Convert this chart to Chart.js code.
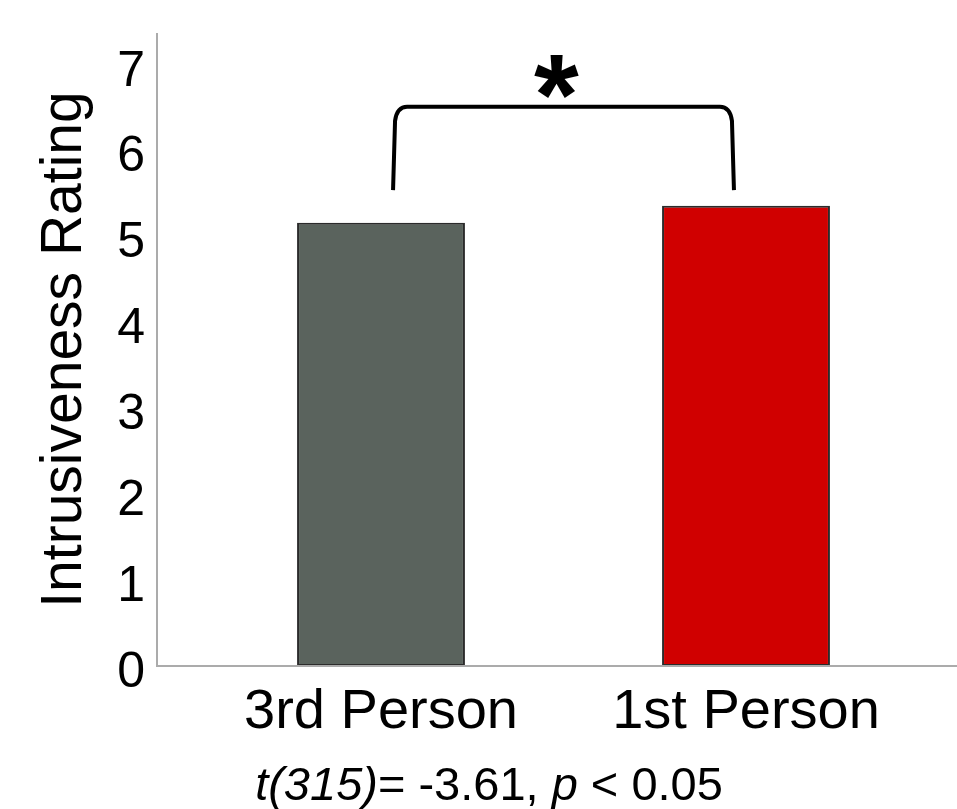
<!DOCTYPE html>
<html><head><meta charset="utf-8">
<script src="https://cdn.jsdelivr.net/npm/chart.js@4.4.0/dist/chart.umd.min.js"></script>
<style>html,body{margin:0;padding:0;background:#fff}#wrap{width:957px;height:809px}</style>
</head><body><div id="wrap"><canvas id="c"></canvas></div>
<script>
const categories = ['3rd Person', '1st Person'];
const ratings = [5.16, 5.36];
const yTicks = [0, 1, 2, 3, 4, 5, 6, 7];
const yMax = 7.37;
const barColors = ['#5A635D', '#D00000'];
const yTitle = 'Intrusiveness Rating';
const sigFrom = 0, sigTo = 1, sigTop = 6.51, sigBottom = 5.54, sigLabel = '*';
const statParts = [['t(315)', true], ['= -3.61, ', false], ['p', true], [' < 0.05', false]];

const FONT = '"Liberation Sans", Arial, sans-serif';

const decor = {
  id: 'decor',
  afterDatasetsDraw(chart) {
    const ctx = chart.ctx, ca = chart.chartArea;
    const xs = chart.scales.x, ys = chart.scales.y;
    const axisLeft = ca.left - 41.5;
    const axisRight = chart.width;
    const y0 = ys.getPixelForValue(0);
    ctx.save();
    // axes
    ctx.strokeStyle = '#ababab';
    ctx.lineWidth = 2;
    ctx.beginPath();
    ctx.moveTo(axisLeft, ys.top);
    ctx.lineTo(axisLeft, y0);
    ctx.lineTo(axisRight, y0);
    ctx.stroke();
    // bracket
    const bw = xs.getPixelForValue(1) - xs.getPixelForValue(0);
    const xl = xs.getPixelForValue(sigFrom) + bw * 0.033;
    const xr = xs.getPixelForValue(sigTo) - bw * 0.033;
    const yt = ys.getPixelForValue(sigTop);
    const yb = ys.getPixelForValue(sigBottom);
    const r = 10, flare = 4;
    ctx.strokeStyle = '#000';
    ctx.lineWidth = 4;
    ctx.lineJoin = 'round';
    ctx.beginPath();
    ctx.moveTo(xl, yb);
    ctx.lineTo(xl + flare * 0.5, yt + r + 4);
    ctx.quadraticCurveTo(xl + flare, yt, xl + flare + r, yt);
    ctx.lineTo(xr - flare - r, yt);
    ctx.quadraticCurveTo(xr - flare, yt, xr - flare * 0.5, yt + r + 4);
    ctx.lineTo(xr, yb);
    ctx.stroke();
    // asterisk
    ctx.fillStyle = '#000';
    ctx.font = 'bold 115px ' + FONT;
    ctx.textAlign = 'center';
    ctx.textBaseline = 'alphabetic';
    ctx.fillText(sigLabel, (xl + xr) / 2 - 7, yt + 27);
    // stats line
    const size = 47;
    let total = 0;
    const widths = statParts.map(([t, it]) => {
      ctx.font = (it ? 'italic ' : '') + size + 'px ' + FONT;
      const w = ctx.measureText(t).width; total += w; return w;
    });
    let x = 489 - total / 2;
    ctx.textAlign = 'left';
    statParts.forEach(([t, it], i) => {
      ctx.font = (it ? 'italic ' : '') + size + 'px ' + FONT;
      ctx.fillText(t, x, 800);
      x += widths[i];
    });
    ctx.restore();
  }
};

new Chart(document.getElementById('c'), {
  type: 'bar',
  data: {
    labels: categories,
    datasets: [{
      data: ratings,
      backgroundColor: barColors,
      borderColor: '#2b2b2b',
      borderWidth: 2,
      borderSkipped: false,
      barPercentage: 0.46,
      categoryPercentage: 1
    }]
  },
  options: {
    responsive: true,
    maintainAspectRatio: false,
    animation: false,
    devicePixelRatio: 1,
    layout: { padding: { top: 33, right: 28.5, left: 0, bottom: 0 } },
    plugins: { legend: { display: false }, tooltip: { enabled: false } },
    scales: {
      x: {
        grid: { display: false, drawTicks: true, tickLength: 8 },
        border: { display: false },
        ticks: { color: '#000', font: { family: FONT, size: 56 }, padding: 5 },
        afterFit(s) { s.height = 143; }
      },
      y: {
        min: 0, max: yMax,
        grid: { display: false, drawTicks: true, tickLength: 45 },
        border: { display: false },
        afterBuildTicks(s) { s.ticks = yTicks.map(v => ({ value: v })); },
        ticks: { color: '#000', font: { family: FONT, size: 50 }, padding: 8.5, labelOffset: 7 },
        title: { display: true, text: yTitle, color: '#000', font: { family: FONT, size: 57 }, padding: { top: 31, bottom: 0 } },
        afterFit(s) { s.width = 198.5; s.paddingTop = 0; s.paddingBottom = 0; }
      }
    }
  },
  plugins: [decor]
});
</script></body></html>
